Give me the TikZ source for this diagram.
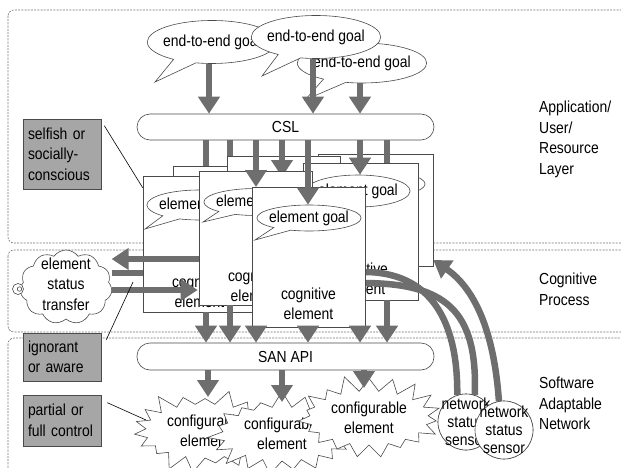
\documentclass[tikz,border=0pt]{standalone}
\usepackage{fontspec}
\setmainfont{Liberation Sans}[FakeStretch=0.87]
\usetikzlibrary{shapes.callouts,shapes.symbols,arrows.meta,calc}

\definecolor{flowgray}{HTML}{6E6E6E}
\definecolor{taggray}{HTML}{A6A6A6}
\definecolor{edgegray}{HTML}{4A4A4A}

\tikzset{
  layer/.style={draw=black!55, dash pattern=on 2pt off 1.2pt, line width=0.6pt, rounded corners=6pt},
  lbl/.style={anchor=north west, inner sep=0pt, align=left},
  goal/.style={ellipse callout, draw=edgegray, fill=white, line width=0.6pt,
    inner xsep=-3pt, inner ysep=0pt, callout pointer arc=22},
  card/.style={draw=edgegray, fill=white, line width=0.6pt, inner sep=0pt,
    minimum width=113pt},
  cardtext/.style={align=center, inner sep=0pt},
  pill/.style={draw=edgegray, fill=white, line width=0.6pt, rounded corners=13pt,
    minimum width=297pt, inner sep=0pt},
  flow/.style={draw=flowgray, line width=6.5pt, -{Triangle[width=21pt,length=17pt]}},
  shaft/.style={draw=flowgray, line width=6.5pt},
  feedback/.style={draw=flowgray, line width=6.5pt},
  tag/.style={draw=edgegray, fill=taggray, text width=68pt, align=left,
    inner xsep=5pt, inner ysep=0pt, line width=0.6pt},
  pointer/.style={draw=black, line width=0.6pt},
  burst/.style={starburst, draw=edgegray, fill=white, line width=0.6pt, align=center,
    starburst points=19, starburst point height=17pt, inner xsep=4pt, inner ysep=3pt},
  sensor/.style={circle, draw=edgegray, fill=white, line width=0.6pt, inner sep=0pt},
  sensortext/.style={align=center, inner sep=0pt, font=\fontsize{16pt}{18pt}\selectfont},
}

\begin{document}
\begin{tikzpicture}[x=1pt, y=-1pt, font=\fontsize{16pt}{20.5pt}\selectfont]
\useasboundingbox (0,0) rectangle (621,468);
\clip (0,0) rectangle (621,468);

% three layers
\draw[layer] (8,10) rectangle (660,243);
\draw[layer] (8,250) rectangle (660,332);
\draw[layer] (8,338) rectangle (660,490);

\node[lbl] (applbl) at (539,101) {Application/\\User/\\Resource\\Layer};
\node[lbl] (coglbl) at (539,273) {Cognitive\\Process};
\node[lbl] (sanlbl) at (539,377) {Software\\Adaptable\\Network};

% end-to-end goals
\node[goal, minimum height=43pt, callout absolute pointer={(155,82)}] (e1) at (212,42) {end-to-end goal};
\node[goal, minimum height=40pt, callout absolute pointer={(305,100)}] (e3) at (362,63) {end-to-end goal};
\node[goal, minimum height=43pt, callout absolute pointer={(262,76)}] (e2) at (316,37) {end-to-end goal};

% lanes
\coordinate (g1) at (209,0);
\coordinate (g2) at (313,0);
\coordinate (l1) at (206,0);
\coordinate (l2) at (230,0);
\coordinate (l3) at (256,0);
\coordinate (l4) at (282,0);
\coordinate (l5) at (308,0);
\coordinate (l6) at (360,0);
\coordinate (l7) at (387,0);
\coordinate (r1) at (0,259);
\coordinate (r2) at (0,273);
\coordinate (r3) at (0,290);
% where the sensor reports enter the front element (behind its edge)
\coordinate (fbin1) at (362,272);
\coordinate (fbin2) at (362,283);
% where the API reaches the configurable elements
\coordinate (cfg1) at (208,397);
\coordinate (cfg2) at (282,402);
\coordinate (cfg3) at (364,388);

\node[pill, minimum height=26pt] (csl) at (285.5,127) {CSL};

\draw[flow] (g1 |- e1.south) -- (g1 |- csl.north);
\draw[flow] (g2 |- e2.south) -- (g2 |- csl.north);
\draw[flow] (l6 |- e3.south) -- (l6 |- csl.north);

% cognitive elements, back to front
\node[card, minimum height=134pt] (cap) at (229.5,233) {};
\draw[shaft] (l1 |- csl.south) -- (l1 |- cap.north);
\draw[shaft] (l2 |- csl.south) -- (l2 |- 0,160);
\node[card, minimum width=115pt, minimum height=112pt] (cdp) at (375.5,210) {};
\node[goal, minimum height=26pt, callout absolute pointer={(322,205)}] (gdp) at (373,184) {element goal};
\draw[shaft] (l7 |- csl.south) -- (l7 |- 0,165);
\node[card, minimum height=134pt] (cbp) at (283.5,223) {};
\draw[flow] (l4 |- csl.south) -- (l4 |- 0,177);
\node[card, minimum width=115pt, minimum height=137pt] (cd) at (360.5,231.5) {};
\node[goal, minimum height=32pt, callout absolute pointer={(306,214)}] (gd) at (358,191) {element goal};
\node[cardtext] (td) at (360.5,279) {cognitive\\element};
\draw[flow] (l6 |- csl.south) -- (l6 |- gd.north);

\node[card, minimum height=136pt] (ca) at (199.5,244) {};
\node[goal, minimum height=30pt, callout absolute pointer={(145,229)}] (ga) at (199,205) {element goal};
\node[cardtext] (ta) at (199.5,292) {cognitive\\element};

% status exchange with the cloud
\node[cloud, draw=edgegray, fill=white, line width=0.6pt, cloud puffs=11, cloud puff arc=110,
  cloud ignores aspect, minimum width=92pt, minimum height=74pt, inner sep=0pt] (cloud) at (66,287) {};
\node[cardtext] (cloudtext) at (66,284) {element\\status\\transfer};
\node[circle, draw=edgegray, fill=white, line width=0.6pt, minimum size=11pt, inner sep=0pt] (tailo) at (18,289) {};
\node[circle, draw=edgegray, line width=0.6pt, minimum size=4.5pt, inner sep=0pt] (taili) at (19.5,289) {};
\draw[flow] (ca.east |- r1) -- (cloud.east |- r1);
\draw[shaft] (cloud.east |- r2) -- (ca.west |- r2);
\draw[flow] (cloud.east |- r3) -- ([xshift=55pt]ca.west |- r3);

\node[card, minimum height=134pt] (cb) at (255.5,238) {};
\node[goal, minimum height=27pt, callout absolute pointer={(203,222)}] (gb) at (256,202) {element goal};
\node[cardtext] (tb) at (255.5,286) {cognitive\\element};
\draw[flow] (l3 |- csl.south) -- (l3 |- 0,187);

% sensor feedback
\node[sensor, minimum size=56pt] (s1) at (466,422) {};
\node[sensor, minimum size=58pt] (s2) at (504,430) {};
\draw[feedback] (s1.108) .. controls (458,320) and (430,271) .. (fbin1);
\draw[feedback] (s1.72) .. controls (478,310) and (445,283) .. (fbin2);
\draw[feedback, -{Triangle[width=21pt,length=17pt]}] (s2.100) .. controls (494,330) and (474,288) .. ([yshift=-50pt]cdp.east);

\node[card, minimum height=140pt] (cc) at (308.5,257) {};
\node[goal, minimum height=26pt, callout absolute pointer={(255,240)}] (gc) at (309,218) {element goal};
\node[cardtext] (tc) at (308.5,304) {cognitive\\element};
\draw[flow] (l5 |- csl.south) -- (l5 |- gc.north);

% down to the adaptable network
\node[pill, minimum height=27pt] (san) at (285.5,356.5) {SAN API};
\draw[flow] (l1 |- ca.south) -- (l1 |- san.north);
\draw[flow] (l2 |- cb.south) -- (l2 |- san.north);
\draw[flow] (l3 |- cc.south) -- (l3 |- san.north);
\draw[flow] (l5 |- cc.south) -- (l5 |- san.north);
\draw[flow] (l6 |- cc.south) -- (l6 |- san.north);
\draw[flow] (l7 |- cd.south) -- (l7 |- san.north);

\node[burst, random starburst=3] (ce1) at (205,431) {configurable\\element};
\node[burst, random starburst=7] (ce2) at (282,434) {configurable\\element};
\node[burst, random starburst=11] (ce3) at (369,418) {configurable\\element};

\draw[flow] (cfg1 |- san.south) -- (cfg1);
\draw[flow] (cfg2 |- san.south) -- (cfg2);
\draw[flow] (cfg3 |- san.south) -- (cfg3);

\node[sensor, minimum size=56pt] (s1f) at (s1) {};
\node[sensortext] (ts1) at (s1) {network\\status\\sensor};
\node[sensor, minimum size=58pt] (s2f) at (s2) {};
\node[sensortext] (ts2) at (s2) {network\\status\\sensor};

% side notes
\node[tag, minimum height=70pt] (selfish) at (62,154) {selfish or\\socially-\\conscious};
\node[tag, minimum height=48pt] (aware) at (62,357) {ignorant\\or aware};
\node[tag, minimum height=51pt] (control) at (62,420.5) {partial or\\full control};
\coordinate (awaretip) at (133,282);
\coordinate (ctrltip) at (146,420);
\draw[pointer] ([xshift=3pt,yshift=-7pt]selfish.north east) -- ([yshift=-12pt]ca.north west);
\draw[pointer] ([xshift=5pt,yshift=-7pt]aware.north east) -- (awaretip);
\draw[pointer] ([xshift=6pt,yshift=-8pt]control.north east) -- (ctrltip);
\end{tikzpicture}
\end{document}
